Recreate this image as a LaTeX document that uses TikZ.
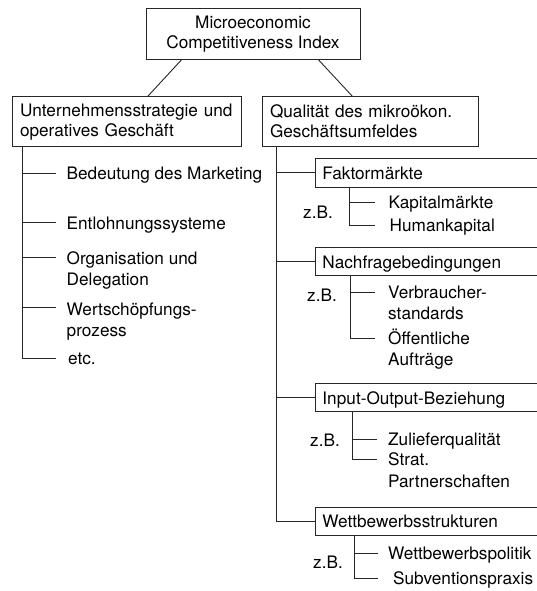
\documentclass[tikz,border=0pt]{standalone}
\usepackage{fontspec}
\setmainfont{TeX Gyre Heros}
\usetikzlibrary{calc}
\begin{document}
\begin{tikzpicture}[x=1pt,y=-1pt,
  every node/.style={font=\fontsize{17.2}{20}\selectfont},
  line/.style={draw=black!85, line width=0.9pt},
  box/.style={draw=black!85, line width=0.9pt, inner xsep=8pt, inner ysep=0pt, align=left},
  rbox/.style={draw=black!85, line width=0.9pt, inner xsep=7pt, inner ysep=0pt, anchor=west,
    text width=240pt, align=left, minimum height=28.5pt, text height=16pt, text depth=3pt},
  leaf/.style={inner sep=0pt, align=left, anchor=base west, font=\fontsize{17.2}{21.3}\selectfont},
  zb/.style={inner sep=0pt, anchor=base west}]
\useasboundingbox (0,0) rectangle (537,591);
\clip (0,0) rectangle (537,591);

% top level
\node[box, align=center, minimum width=214pt, minimum height=51pt] (mci) at (253,33.8) {Microeconomic\\Competitiveness Index};
\node[box, text width=213.5pt, minimum height=49.5pt] (ue) at (126.8,121.7) {Unternehmensstrategie und\\operatives Geschäft};
\node[box, text width=200pt, minimum height=49.5pt] (qm) at (370,121.7) {Qualität des mikroökon.\\Geschäftsumfeldes};
\draw[line] ($(mci.south west)+(36,0)$) -- ($(ue.north west)+(136,0)$);
\draw[line] ($(mci.south east)+(-42,0)$) -- ($(qm.north west)+(91,0)$);

% left column
\coordinate (ls0) at ($(ue.south west)+(11,0)$);
\coordinate (b1) at (55.5,173.5);
\coordinate (b2) at (55.5,222.7);
\coordinate (b3) at (55.5,257.7);
\coordinate (b4) at (55.5,307.7);
\coordinate (b5) at (55.5,358.3);
\node[leaf] (t1) at ($(b1)+(11,6.3)$) {Bedeutung des Marketing};
\node[leaf] (t2) at ($(b2)+(11,6.3)$) {Entlohnungssysteme};
\node[leaf] (t3) at ($(b3)+(11,27.6)$) {Organisation und\\Delegation};
\node[leaf] (t4) at ($(b4)+(11,28.6)$) {Wertschöpfungs-\\prozess};
\node[leaf] (t5) at ($(b5)+(12.5,6.3)$) {etc.};
\draw[line] (ls0) |- (b5);
\foreach \b in {b1,b2,b3,b4} \draw[line] (ls0 |- \b) -- (\b);

% right column boxes
\node[rbox] (fm) at (315,172.8) {Faktormärkte};
\node[rbox] (nb) at (315,261.5) {Nachfragebedingungen};
\node[rbox] (io) at (315,397.5) {Input-Output-Beziehung};
\node[rbox] (ws) at (315,521.3) {Wettbewerbsstrukturen};
\coordinate (rs0) at ($(qm.south west)+(14.7,0)$);
\draw[line] (rs0) |- (ws.west);
\foreach \n in {fm,nb,io} \draw[line] (rs0 |- \n.west) -- (\n.west);

% Faktormaerkte
\coordinate (fs0) at ($(fm.south west)+(34.3,0)$);
\coordinate (k1) at (375,202);
\coordinate (k2) at (375,225);
\node[leaf] (kap) at ($(k1)+(13.3,6.3)$) {Kapitalmärkte};
\node[leaf] (hum) at ($(k2)+(14.5,6.3)$) {Humankapital};
\node[zb] (zb1) at (303,218.3) {z.B.};
\draw[line] (fs0) |- (k2);
\draw[line] (fs0 |- k1) -- (k1);

% Nachfragebedingungen
\coordinate (ns0) at ($(nb.south west)+(35.7,0)$);
\coordinate (n1) at (375,292);
\coordinate (n2) at (375,338);
\node[leaf] (vb) at ($(n1)+(13,27.6)$) {Verbraucher-\\standards};
\node[leaf] (oa) at ($(n2)+(13,27.6)$) {Öffentliche\\Aufträge};
\node[zb] (zb2) at (307,301.3) {z.B.};
\draw[line] (ns0) |- (n2);
\draw[line] (ns0 |- n1) -- (n1);

% Input-Output
\coordinate (is0) at ($(io.south west)+(37,0)$);
\coordinate (i1) at (377,439);
\coordinate (i2) at (377,459);
\node[leaf] (zq) at ($(i1)+(11,6.3)$) {Zulieferqualität};
\node[leaf, font=\fontsize{17.2}{22.5}\selectfont] (sp) at ($(i2)+(11,28.8)$) {Strat.\\Partnerschaften};
\node[zb] (zb3) at (310,446.3) {z.B.};
\draw[line] (is0) |- (i2);
\draw[line] (is0 |- i1) -- (i1);

% Wettbewerbsstrukturen
\coordinate (ws0) at ($(ws.south west)+(39,0)$);
\coordinate (w1) at (378,553);
\coordinate (w2) at (378,578);
\node[leaf] (wp) at ($(w1)+(10,6.3)$) {Wettbewerbspolitik};
\node[leaf] (sv) at ($(w2)+(15,6.3)$) {Subventionspraxis};
\node[zb] (zb4) at (313,568.3) {z.B.};
\draw[line] (ws0) |- (w2);
\draw[line] (ws0 |- w1) -- (w1);
\end{tikzpicture}
\end{document}
